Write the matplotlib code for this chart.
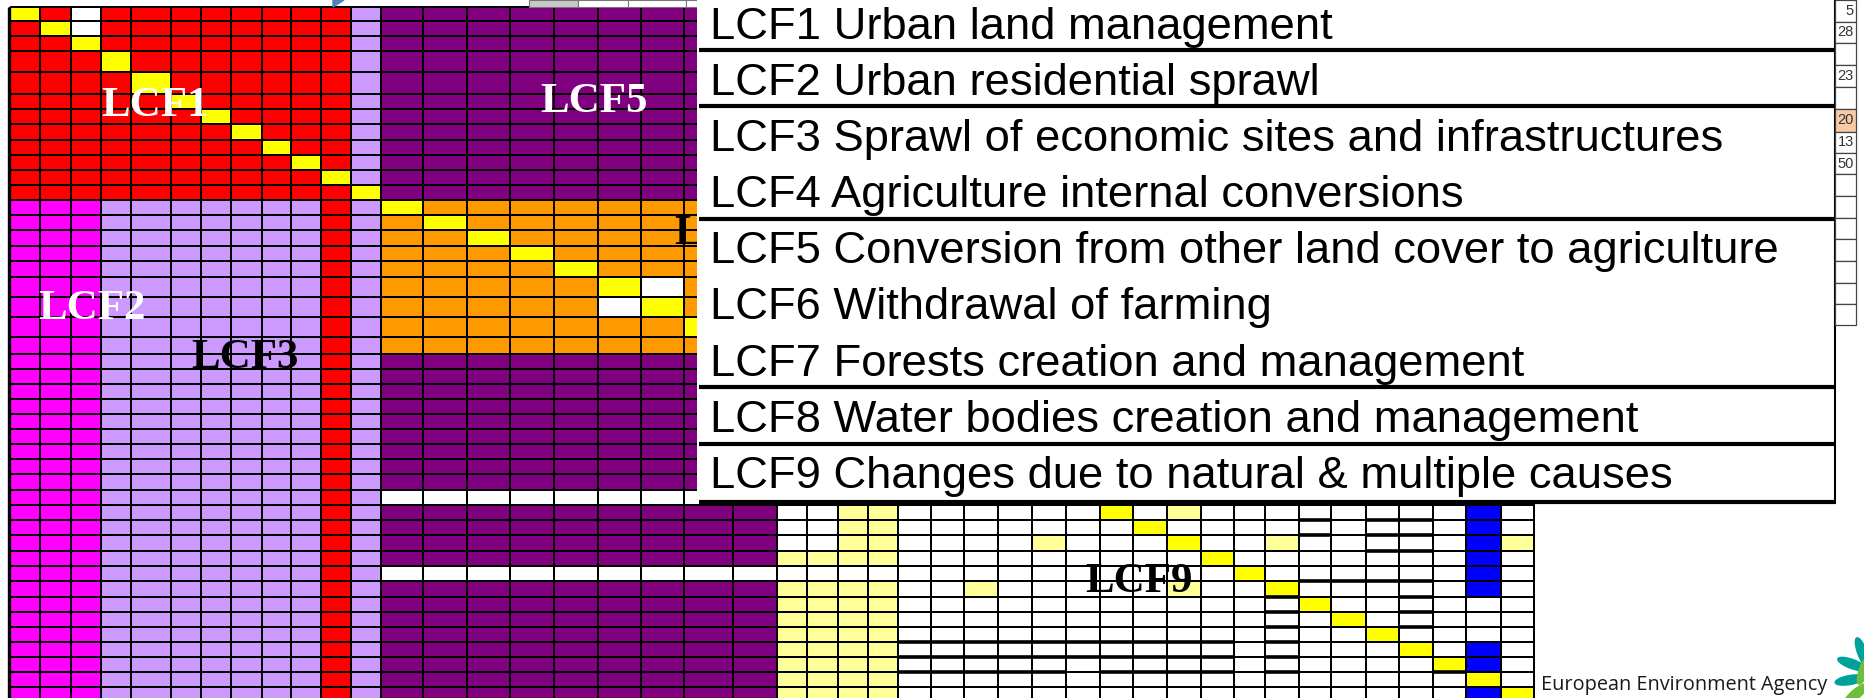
import matplotlib
matplotlib.use("Agg")
import matplotlib.pyplot as plt
import numpy as np
from matplotlib.colors import ListedColormap
from matplotlib.patches import Rectangle, Polygon, Ellipse

# legend entries (the white box over the matrix)
lcf_labels = [
    "LCF1 Urban land management",
    "LCF2 Urban residential sprawl",
    "LCF3 Sprawl of economic sites and infrastructures",
    "LCF4 Agriculture internal conversions",
    "LCF5 Conversion from other land cover to agriculture",
    "LCF6 Withdrawal of farming",
    "LCF7 Forests creation and management",
    "LCF8 Water bodies creation and management",
    "LCF9 Changes due to natural & multiple causes",
]
# a rule is drawn under these entries
legend_breaks = [0, 1, 3, 6, 7, 8]

# names written on the blocks of the matrix
block_names = ["LCF1", "LCF5", "LCF2", "LCF3", "LCF4", "LCF9"]
block_text_colors = ["white", "white", "white", "black", "black", "black"]

# spreadsheet column on the right edge
side_numbers = ["5", "28", "", "23", "", "20", "13", "50", "", "", "", "", "", "", ""]
side_shaded = [False, False, False, False, False, True, False, False,
               False, False, False, False, False, False, False]

# matrix cells, one letter each:
# W white, R red, Y yellow, V lavender, P purple, M magenta, O orange, y pale yellow, B blue
lcf1_rows = [
    "YRWRRRRRRRRV",
    "RYWRRRRRRRRV",
    "RRYRRRRRRRRV",
    "RRRYRRRRRRRV",
    "RRRRYRRRRRRV",
    "RRRRRYRRRRRV",
    "RRRRRRYRRRRV",
    "RRRRRRRYRRRV",
    "RRRRRRRRYRRV",
    "RRRRRRRRRYRV",
    "RRRRRRRRRRYV",
    "RRRRRRRRRRRY",
]
lcf4_rows = [
    "YOOOOOOOO",
    "OYOOOOOOO",
    "OOYOOOOOO",
    "OOOYOOOOO",
    "OOOOYOOOO",
    "OOOOOYWOO",
    "OOOOOWYOO",
    "OOOOOOOYO",
    "OOOOOOOOY",
]
lcf9_rows = [
    "WWyy" + "WWWWWW" + "YWy" + "WWWWWWWW" + "BW",
    "WWyy" + "WWWWWWW" + "Y" + "WWWWWWWWW" + "BW",
    "WWyy" + "WWWW" + "y" + "WWW" + "Y" + "WW" + "y" + "WWWWW" + "By",
    "yyyy" + "WWWWWWWWW" + "Y" + "WWWWWWW" + "BW",
    "WWWW" + "WWWWWWWWWW" + "Y" + "WWWWWW" + "BW",
    "yyyy" + "WW" + "y" + "WWWWW" + "y" + "WW" + "Y" + "WWWWW" + "BW",
    "yyyy" + "WWWWWWWWWWWW" + "Y" + "WWWW" + "WW",
    "yyyy" + "WWWWWWWWWWWWW" + "Y" + "WWW" + "WW",
    "yyyy" + "WWWWWWWWWWWWWW" + "Y" + "WW" + "WW",
    "yyyy" + "WWWWWWWWWWWWWWW" + "Y" + "W" + "BW",
    "yyyy" + "WWWWWWWWWWWWWWWW" + "Y" + "BW",
    "yyyy" + "WWWWWWWWWWWWWWWWW" + "YW",
    "yyyy" + "WWWWWWWWWWWWWWWWW" + "BY",
]
left_lower = "MMMVVVVVVVRV"
purple_row = "PPPPPPPPP"
white_band = "WWWWWWWWW"
hidden_right = "WWWWWWWWWWWWWWWWWWWWWWW"

# heavier cell borders in the LCF9 part: (row of lcf9_rows whose top edge, first col, last col)
thick_borders = [
    (1, 16, 16), (1, 18, 19), (2, 16, 16), (2, 18, 19), (3, 18, 19),
    (5, 16, 19), (6, 15, 15), (7, 15, 15), (8, 15, 15), (9, 15, 15),
    (10, 15, 15), (11, 15, 15), (6, 19, 19), (7, 19, 19), (8, 19, 19),
    (9, 4, 13), (10, 4, 13), (11, 4, 8), (11, 10, 13), (11, 20, 20),
]

colors = {"W": "#ffffff", "R": "#ff0000", "Y": "#ffff00", "V": "#cc99ff",
          "P": "#800080", "M": "#ff00ff", "O": "#ff9900", "y": "#ffff99", "B": "#0000ff"}

# ---- layout (pixels) ----
W_PX, H_PX = 1865, 698
col_edges = [10, 40, 71, 101, 131, 171, 201, 231, 262, 291, 321, 351, 381,
             423, 467, 510, 554, 598, 641, 684, 733, 777,
             807, 838, 868, 898, 931, 964, 998, 1032, 1066, 1100, 1133, 1167, 1201,
             1234, 1265, 1299, 1331, 1366, 1399, 1433, 1466, 1501, 1534]
row_edges = [7, 21, 36, 51, 72, 94, 109, 124, 140, 155, 170, 185, 200,
             215, 230, 246, 261, 277, 297, 317, 337, 354,
             369, 384, 399, 414, 429, 444, 459, 474, 490, 505, 520, 535, 551, 566,
             581, 597, 612, 627, 642, 657, 672, 687, 702]
lcf9_first_col = 21
lcf9_first_row = 31

rows = []
for s in lcf1_rows:
    rows.append(s + purple_row + hidden_right)
for s in lcf4_rows:
    rows.append(left_lower + s + hidden_right)
for i in range(23):
    mid = white_band if i in (9, 14) else purple_row
    right = lcf9_rows[i - 10] if i >= 10 else hidden_right
    rows.append(left_lower + mid + right)

for r in rows:
    assert len(r) == len(col_edges) - 1, (r, len(r))
assert len(rows) == len(row_edges) - 1

codes = list(colors.keys())
grid = np.array([[codes.index(ch) for ch in r] for r in rows])

fig = plt.figure(figsize=(W_PX / 100, H_PX / 100), dpi=100)
ax = fig.add_axes([0, 0, 1, 1])
ax.set_xlim(0, W_PX)
ax.set_ylim(H_PX, 0)
ax.axis("off")

cmap = ListedColormap([colors[c] for c in codes])
ax.pcolormesh(col_edges, row_edges, grid, cmap=cmap, vmin=-0.5, vmax=len(codes) - 0.5,
              edgecolors="black", linewidth=1.4, zorder=1)
ax.vlines(col_edges[0] - 1, row_edges[0], H_PX, color="black", lw=2.4, zorder=2)

for r, c0, c1 in thick_borders:
    ax.hlines(row_edges[lcf9_first_row + r], col_edges[lcf9_first_col + c0],
              col_edges[lcf9_first_col + c1 + 1], color="black", lw=2.6, zorder=2)

# spreadsheet scraps along the top edge
ax.add_patch(Polygon([(333, 7), (344, 0), (333, 0)], closed=True, color="#4f81bd", zorder=2))
for x0, x1, fc in [(529, 578, "#c8c8c8"), (578, 628, "white"), (628, 686, "white"), (686, 697, "white")]:
    ax.add_patch(Rectangle((x0, 0), x1 - x0, 7, fc=fc, ec="#777777", lw=0.8, zorder=2))

# legend box geometry
box_x0, box_x1, box_bottom = 697, 1836, 502

# block names
serif = ["Liberation Serif", "DejaVu Serif"]
block_pos = [(155, 106, "center"), (594, 102, "center"), (92, 309, "center"),
             (245, 358, "center"), (674, 234, "left"), (1139, 582, "center")]
for name, col, (x, y, ha) in zip(block_names, block_text_colors, block_pos):
    t = ax.text(x, y, name, color=col, fontsize=31, fontweight="bold", family=serif,
                ha=ha, va="center", zorder=3)
    if name == "LCF4":
        # only the first letter shows from under the legend box
        t.set_text("L")

ax.add_patch(Rectangle((box_x0, 0), box_x1 - box_x0, box_bottom, fc="white", ec="none", zorder=5))
ax.vlines(box_x1 - 1, 0, box_bottom, color="black", lw=1.5, zorder=6)

first_center, step, cap_half = 22, 56.2, 16.5
texts = []
for i, lab in enumerate(lcf_labels):
    yc = first_center + i * step
    t = ax.text(710, yc + cap_half, lab, fontsize=33, family=["Liberation Sans", "DejaVu Sans"],
                ha="left", va="baseline", color="black", zorder=7)
    texts.append(t)
for i in legend_breaks:
    yl = first_center + (i + 0.5) * step if i < len(lcf_labels) - 1 else box_bottom
    ax.hlines(yl, box_x0 + 2, box_x1, color="black", lw=3.0, zorder=6)

# fit the legend font to the original line lengths
fig.canvas.draw()
rend = fig.canvas.get_renderer()
w = texts[4].get_window_extent(rend).width
for t in texts:
    t.set_fontsize(33 * 1086 / w * 0.985)

# narrow numeric column at the right edge
side_edges = [0, 22, 43, 65, 87, 109, 132, 153, 174, 196, 218, 239, 261, 283, 304, 325]
sx0, sx1 = 1835, 1856
for i, val in enumerate(side_numbers):
    y0, y1 = side_edges[i], side_edges[i + 1]
    fc = "#f8cba6" if side_shaded[i] else "white"
    ax.add_patch(Rectangle((sx0, y0), sx1 - sx0, y1 - y0, fc=fc, ec="#444444", lw=0.9, zorder=6))
    if val:
        ax.text(sx1 - 2, (y0 + y1) / 2, val, fontsize=10.5, family=["Liberation Sans", "DejaVu Sans"],
                ha="right", va="center", color="#333333", zorder=7)

# agency credit and logo
eea = ax.text(1541, 685, "European Environment Agency", fontsize=13, family=["Open Sans", "DejaVu Sans"],
              ha="left", va="center", color="#1a1a1a", fontweight="medium", zorder=7)
fig.canvas.draw()
ew = eea.get_window_extent(fig.canvas.get_renderer()).width
eea.set_fontsize(13 * 285 / ew)

leaves = [(1862, 652, 70, "#00a19a"), (1852, 664, 20, "#00a19a"), (1850, 680, -10, "#00a19a"),
          (1856, 694, -40, "#6cbf3a"), (1864, 670, 110, "#6cbf3a")]
for x, y, ang, c in leaves:
    ax.add_patch(Ellipse((x, y), 30, 9, angle=ang, color=c, zorder=7))

fig.savefig("out.png", dpi=100)
